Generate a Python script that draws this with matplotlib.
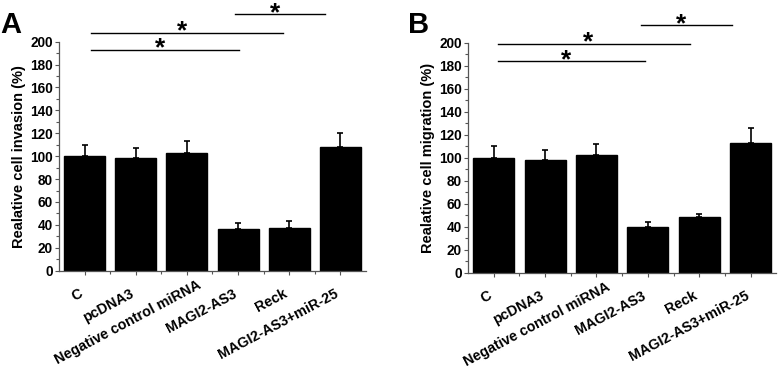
import numpy as np
import matplotlib
matplotlib.use("Agg")
import matplotlib.pyplot as plt
import matplotlib.transforms as mtransforms
from matplotlib.ticker import MultipleLocator, FixedLocator

plt.rcParams['font.family'] = ['Liberation Sans', 'DejaVu Sans']
plt.rcParams['font.weight'] = 'bold'

# groups on the x axis
groups = ["C", "pcDNA3", "Negative control miRNA", "MAGI2-AS3", "Reck", "MAGI2-AS3+miR-25"]

# panel A: invasion
invasion = [100, 98, 103, 36, 37, 108]
invasion_err = [10, 9, 10, 6, 6, 12]

# panel B: migration
migration = [100, 98, 102, 40, 48, 113]
migration_err = [10, 9, 10, 4, 3, 13]

# significance bars: (start, end, height)
sig_a = [(1.12, 4.02, 193), (1.12, 4.88, 208), (3.94, 5.7, 224)]
sig_b = [(1.08, 3.95, 184), (1.08, 4.81, 199), (3.87, 5.63, 215)]

fig = plt.figure(figsize=(7.78, 3.70), dpi=100)
ax_a = fig.add_axes([0.0758, 0.2684, 0.3946, 0.6189])
ax_b = fig.add_axes([0.6015, 0.2630, 0.3965, 0.6216])


def draw_panel(ax, vals, errs, sigs, ylabel):
    x = np.arange(1, len(vals) + 1)
    ax.bar(x, vals, width=0.8, color='black', edgecolor='black')
    ax.errorbar(x, vals, yerr=[np.zeros(len(errs)), errs], fmt='none',
                ecolor='black', elinewidth=1.2, capsize=2.5, capthick=1.2)
    ax.set_xlim(0.5, len(vals) + 0.5)
    ax.set_ylim(0, 200)
    ax.yaxis.set_major_locator(MultipleLocator(20))
    ax.yaxis.set_minor_locator(MultipleLocator(10))
    ax.xaxis.set_major_locator(FixedLocator(x))
    ax.xaxis.set_minor_locator(FixedLocator(x[:-1] + 0.5))
    ax.set_xticklabels([])
    # rotated group labels, placed by hand like in the original figure
    for i, name in enumerate(groups):
        dx, dy = (9.5, -7) if i == 2 else (-6, -16)
        off = mtransforms.ScaledTranslation(dx / 100, dy / 100, fig.dpi_scale_trans)
        ax.text(x[i], 0, name, transform=ax.get_xaxis_transform() + off,
                rotation=28, rotation_mode='anchor', ha='right', va='top',
                fontsize=10.3, fontweight='bold')
    for lab in ax.get_yticklabels():
        lab.set_fontweight('bold')
    ax.tick_params(axis='y', labelsize=9.8, length=3, width=0.8, color='#555555', pad=1.5)
    ax.tick_params(axis='y', which='minor', length=2, width=0.8, color='#555555')
    ax.tick_params(axis='x', length=3, width=0.8, color='#555555')
    ax.tick_params(axis='x', which='minor', length=2, width=0.8, color='#555555')
    for s in ['top', 'right']:
        ax.spines[s].set_visible(False)
    for s in ['left', 'bottom']:
        ax.spines[s].set_color('#555555')
        ax.spines[s].set_linewidth(0.9)
    ax.set_ylabel(ylabel, fontsize=10.5, fontweight='bold', labelpad=3)
    for x0, x1, h in sigs:
        ax.plot([x0, x1], [h, h], color='black', lw=1.0, clip_on=False)
        ax.text((x0 + x1) / 2 - 0.1, h - 9.5, '*', fontsize=19, fontweight='bold',
                ha='center', va='bottom', clip_on=False)


draw_panel(ax_a, invasion, invasion_err, sig_a, "Realative cell invasion (%)")
draw_panel(ax_b, migration, migration_err, sig_b, "Realative cell migration (%)")

fig.text(0.0, 0.895, "A", fontsize=21, fontweight='bold', ha='left', va='bottom')
fig.text(0.525, 0.895, "B", fontsize=21, fontweight='bold', ha='left', va='bottom')

fig.savefig("out.png", dpi=100)
